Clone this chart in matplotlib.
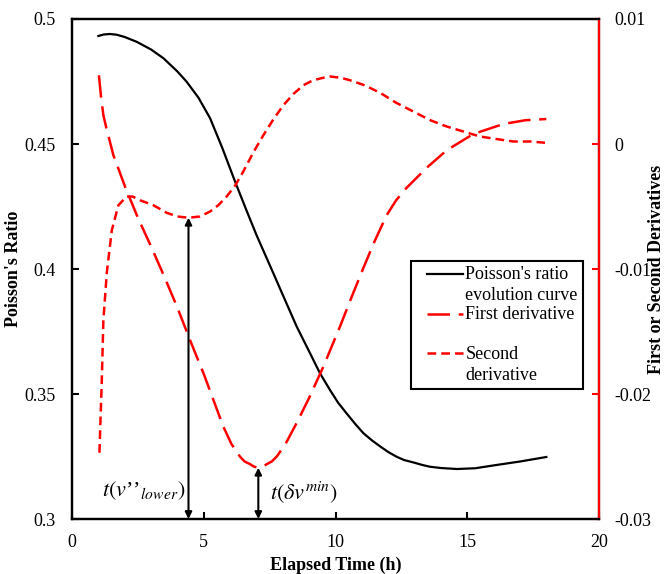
import numpy as np
import matplotlib
matplotlib.use("Agg")
import matplotlib.pyplot as plt
from matplotlib.lines import Line2D
from matplotlib.legend_handler import HandlerLine2D

plt.rcParams['font.family'] = ['Liberation Serif', 'DejaVu Serif']
plt.rcParams['mathtext.fontset'] = 'stix'

# Curva de evolucion del coeficiente de Poisson
t_nu = [1.0, 1.2, 1.44, 1.7, 2.0, 2.45, 3.0, 3.47, 4.0, 4.35, 4.8, 5.24, 5.7, 6.19,
        6.6, 7.0, 7.64, 8.1, 8.53, 9.0, 9.41, 9.79, 10.1, 10.4, 10.75, 11.06, 11.4,
        11.7, 12.0, 12.32, 12.6, 13.0, 13.3, 13.59, 14.0, 14.6, 15.3, 16.1, 17.0, 18.0]
nu = [0.4932, 0.4938, 0.4940, 0.4937, 0.4928, 0.4909, 0.4878, 0.4843, 0.4790, 0.4749,
      0.4685, 0.4603, 0.4485, 0.4349, 0.4240, 0.4136, 0.3983, 0.3872, 0.3769, 0.3670,
      0.3583, 0.3516, 0.3465, 0.3425, 0.3380, 0.3343, 0.3313, 0.3290, 0.3268, 0.3249,
      0.3236, 0.3225, 0.3216, 0.3209, 0.3204, 0.3200, 0.3203, 0.3216, 0.3230, 0.3248]

# Primera derivada
t_d1 = [1.02, 1.1, 1.19, 1.3, 1.4, 1.57, 1.8, 2.01, 2.5, 3.0, 3.5, 4.0, 4.5, 5.0, 5.74,
        6.05, 6.37, 6.55, 6.75, 6.9, 7.07, 7.25, 7.4, 7.58, 7.77, 8.1, 8.53, 9.0, 9.54,
        10.17, 10.6, 11.06, 11.5, 11.94, 12.3, 12.7, 13.46, 14.22, 15.23, 16.37, 17.2,
        18.0]
d1 = [0.0055, 0.0038, 0.0023, 0.0013, 0.0005, -0.0009, -0.0022, -0.0034, -0.0059,
      -0.0082, -0.0106, -0.0131, -0.0158, -0.0184, -0.0226, -0.0240, -0.0250, -0.0254,
      -0.0256, -0.0258, -0.0259, -0.0258, -0.0256, -0.0254, -0.0250, -0.0240, -0.0223,
      -0.0203, -0.0178, -0.0146, -0.0123, -0.0099, -0.0077, -0.0057, -0.0045, -0.0035,
      -0.0019, -0.0005, 0.0008, 0.0016, 0.0019, 0.0020]

# Segunda derivada
t_d2 = [1.04, 1.13, 1.19, 1.32, 1.51, 1.76, 2.07, 2.3, 2.58, 3.09, 3.59, 4.0, 4.42,
        4.85, 5.24, 5.55, 5.87, 6.2, 6.5, 6.9, 7.26, 7.65, 8.02, 8.4, 8.78, 9.15, 9.54,
        9.79, 10.2, 10.55, 11.1, 11.69, 12.3, 12.95, 13.6, 14.22, 14.85, 15.48, 16.1,
        16.75, 17.4, 17.95]
d2 = [-0.0247, -0.0189, -0.0141, -0.0103, -0.0069, -0.0049, -0.0042, -0.0042, -0.0045,
      -0.0049, -0.0055, -0.0058, -0.0059, -0.0058, -0.0054, -0.0049, -0.0042, -0.0033,
      -0.0022, -0.0006, 0.0007, 0.0020, 0.0031, 0.0040, 0.0047, 0.0051, 0.0053, 0.0054,
      0.0053, 0.0051, 0.0047, 0.0041, 0.0033, 0.0026, 0.0019, 0.0014, 0.0010, 0.0006,
      0.0004, 0.0002, 0.0002, 0.0001]

x_ticks = [0, 5, 10, 15, 20]
y_ticks = [0.3, 0.35, 0.4, 0.45, 0.5]
y2_ticks = [-0.03, -0.02, -0.01, 0, 0.01]

fig = plt.figure(figsize=(6.65, 5.74), dpi=100)
ax = fig.add_axes([0.1083, 0.0958, 0.7925, 0.8711])
ax2 = ax.twinx()

l0, = ax.plot(t_nu, nu, color='black', lw=1.6, label="Poisson's ratio\nevolution curve")
l1, = ax2.plot(t_d1, d1, color='red', lw=1.8, linestyle=(0, (9, 3.5)),
               label='First derivative\n')
l2, = ax2.plot(t_d2, d2, color='red', lw=1.8, linestyle=(0, (3.5, 2)),
               label='Second\nderivative')

ax.set_xlim(0, 20)
ax.set_ylim(0.3, 0.5)
ax2.set_ylim(-0.03, 0.01)
ax.set_xticks(x_ticks)
ax.set_yticks(y_ticks)
ax.set_yticklabels(['0.3', '0.35', '0.4', '0.45', '0.5'])
ax2.set_yticks(y2_ticks)
ax2.set_yticklabels(['-0.03', '-0.02', '-0.01', '0', '0.01'])

for a in (ax, ax2):
    for s in a.spines.values():
        s.set_linewidth(1.6)
ax.tick_params(axis='both', direction='in', length=5, width=1.5, labelsize=13)
ax.tick_params(axis='y', pad=12)
ax.tick_params(axis='x', pad=11)
ax2.spines['right'].set_color('red')
ax2.tick_params(axis='y', direction='in', length=5, width=1.5, colors='red',
                labelcolor='black', labelsize=13, pad=11)

ax.set_xlabel('Elapsed Time (h)', fontsize=13, fontweight='bold')
ax.set_ylabel("Poisson's Ratio", fontsize=13, fontweight='bold')
ax2.set_ylabel('First or Second Derivatives', fontsize=13, fontweight='bold')
ax.xaxis.set_label_coords(0.5, -0.075)
ax.yaxis.set_label_coords(-0.094, 0.5)
ax2.yaxis.set_label_coords(1.093, 0.5)

# flechas: minimo local de la segunda derivada y minimo de la primera
t2 = np.array(t_d2)
sel = t2 > 3
i_low = np.flatnonzero(sel)[np.argmin(np.array(d2)[sel])]
i_min = int(np.argmin(d1))
arrow = dict(arrowstyle='<|-|>', color='black', lw=1.5, mutation_scale=10,
             shrinkA=0, shrinkB=0)
ax2.annotate('', xy=(t_d2[i_low], d2[i_low]), xytext=(t_d2[i_low], -0.03),
             arrowprops=arrow)
ax2.annotate('', xy=(t_d1[i_min], d1[i_min]), xytext=(t_d1[i_min], -0.03),
             arrowprops=arrow)
ax2.text(t_d2[i_low] - 0.12, -0.0277, r"$t(v$’’$_{lower})$", fontsize=16,
         ha='right', va='center')
ax2.text(t_d1[i_min] + 0.45, -0.0279, r"$t(\delta v^{min})$", fontsize=16,
         ha='left', va='center')

# leyenda con un poco de margen lateral antes de cada muestra
leg = ax2.legend(handles=[l0, l1, l2], loc='upper right', bbox_to_anchor=(0.970, 0.516),
                 borderaxespad=0, fontsize=13, fancybox=False, framealpha=1,
                 edgecolor='black', handlelength=2.55, handletextpad=0.15,
                 labelspacing=0.15, borderpad=0.3, handleheight=1.0,
                 handler_map={Line2D: HandlerLine2D(xpad=0.55)})
leg.get_frame().set_linewidth(1.5)
for txt in leg.get_texts():
    txt.set_linespacing(1.25)
# alinear cada muestra con la primera linea de su etiqueta
for col in leg._legend_handle_box.get_children():
    for item in col.get_children():
        item.align = 'top'

fig.savefig('out.png', dpi=100)
